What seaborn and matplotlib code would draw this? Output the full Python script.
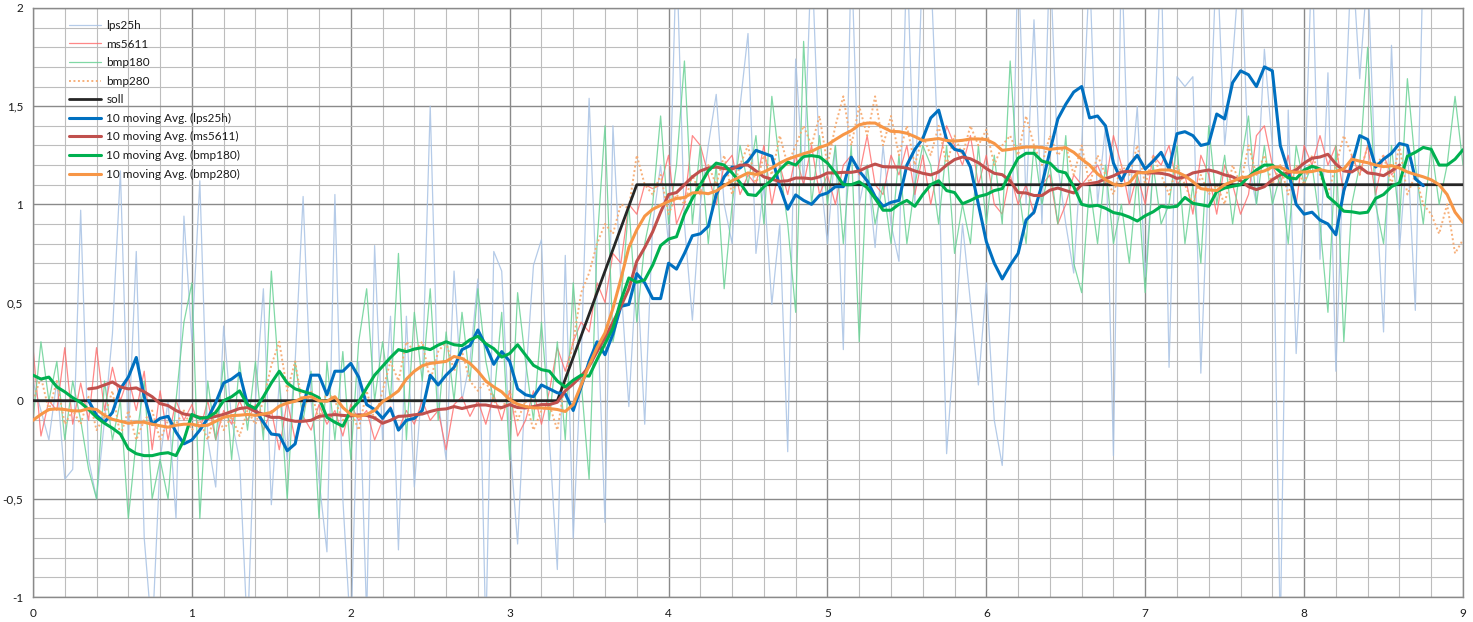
import numpy as np
import pandas as pd
import matplotlib
matplotlib.use("Agg")
import matplotlib.pyplot as plt
import seaborn as sns
from matplotlib.ticker import MultipleLocator, FuncFormatter

nan = np.nan

# sample times (0.05 s grid, 0 .. 9)
t = np.round(np.arange(181) * 0.05, 2)

# raw sensor series
lps25h = [
    0.1, -0.05, -0.2, 0.1, -0.4, -0.35, 0.97, -0.3, -0.5, -0.1,
    0.34, 1.17, -0.2, 0.76, -0.7, -1.2, -0.3, 0.0, -0.6, 0.94,
    0.3, 1.12, -0.2, -0.44, 0.38, -0.1, -0.3, -1.2, 0.0, 0.57,
    -0.53, 0.1, -0.3, 0.2, 1.04, 0.0, -0.4, -0.77, 1.05, -0.5,
    -1.2, 0.2, -1.1, 0.79, -0.2, 0.43, -0.76, 0.43, -0.44, 0.1,
    1.5, 0.0, -0.3, 0.66, 0.0, 0.2, 0.62, -1.2, 0.76, 0.66,
    -0.2, -0.73, 0.1, 0.69, 0.82, -0.2, -0.86, 0.74, -0.7, 0.2,
    1.54, 0.5, -0.62, 1.4, 0.6, -0.03, 0.7, -0.12, 0.9, 1.2,
    0.8, 2.3, 0.9, 0.41, 1.0, 1.3, 1.56, 1.0, 0.8, 1.5,
    1.87, 0.75, 1.1, 0.49, 0.9, -0.26, 1.74, 1.1, 2.3, 1.2,
    0.8, 1.3, 0.26, 2.3, 1.0, 1.2, 0.78, 1.3, 0.9, 0.71,
    2.3, 1.0, 2.3, 2.2, 1.2, -0.27, 0.3, 0.9, 0.5, 0.08,
    0.6, -0.1, -0.33, 0.5, 2.3, 1.0, 1.94, 0.9, 2.3, 1.2,
    0.9, 0.65, 1.3, 2.2, 1.0, 1.4, -0.28, 2.3, 1.0, 1.5,
    0.63, 1.2, 2.3, 0.17, 1.65, 1.6, 1.65, 0.14, 1.2, 2.3,
    1.3, 1.73, 2.3, 1.2, 1.0, 1.79, 1.3, -1.2, 1.48, 0.24,
    1.0, 2.3, 0.72, 1.67, 0.15, 1.3, 2.3, 1.64, 2.2, 1.1,
    0.35, 1.81, 0.77, 1.3, 0.46, 2.3, nan, nan, nan, nan,
    nan]

ms5611 = [
    0.27, -0.18, 0.0, -0.05, 0.27, -0.12, 0.09, -0.1, 0.27, -0.05,
    0.17, 0.0, 0.12, -0.05, 0.15, -0.25, 0.05, -0.2, 0.0, -0.1,
    -0.02, -0.15, 0.0, -0.2, -0.05, -0.12, 0.0, -0.1, -0.02, -0.15,
    -0.05, -0.25, 0.0, -0.2, -0.08, -0.15, -0.02, -0.12, -0.05, -0.18,
    -0.02, -0.1, -0.05, -0.2, -0.1, -0.03, -0.15, -0.05, -0.12, 0.0,
    -0.1, -0.05, -0.25, -0.02, 0.02, -0.08, 0.0, -0.12, 0.03, -0.1,
    0.05, -0.18, -0.1, 0.05, -0.12, 0.05, 0.27, 0.15, 0.3, 0.4,
    0.35, 0.6, 0.5, 0.75, 0.7, 1.0, 0.95, 1.1, 1.08, 1.1,
    1.25, 0.9, 1.0, 1.35, 1.3, 1.15, 1.0, 1.2, 1.25, 1.05,
    1.15, 1.1, 1.3, 1.0, 1.2, 1.05, 1.25, 1.1, 1.3, 1.05,
    1.15, 1.0, 1.2, 1.25, 1.15, 1.35, 1.1, 1.05, 1.25, 1.15,
    1.3, 1.05, 1.25, 1.0, 1.2, 1.4, 1.3, 1.2, 1.35, 1.1,
    1.25, 1.0, 0.95, 1.15, 1.0, 1.1, 0.95, 1.1, 1.15, 0.9,
    1.0, 1.15, 1.1, 1.15, 1.2, 1.1, 1.35, 1.2, 1.0, 1.15,
    1.0, 1.25, 1.2, 1.3, 1.1, 1.15, 0.95, 1.25, 1.15, 0.95,
    1.2, 1.1, 0.95, 1.05, 1.35, 1.4, 1.2, 1.1, 1.25, 1.0,
    1.3, 1.2, 1.35, 1.2, 1.3, 1.05, 1.25, 1.15, 1.3, 1.05,
    1.25, 1.15, 1.2, nan, nan, nan, nan, nan, nan, nan,
    nan]

bmp180 = [
    -0.1, 0.3, 0.0, 0.2, -0.2, 0.1, -0.1, -0.35, -0.5, 0.1,
    -0.2, 0.0, -0.6, -0.2, 0.1, -0.5, -0.3, -0.5, 0.0, 0.4,
    0.6, -0.6, 0.1, -0.2, 0.2, -0.3, 0.2, -0.15, 0.2, -0.2,
    0.66, 0.1, -0.5, 0.2, -0.1, 0.15, -0.6, 0.2, -0.2, 0.25,
    -0.3, 0.3, 0.57, 0.0, 0.3, 0.0, 0.75, -0.2, 0.45, 0.1,
    0.57, -0.1, 0.35, 0.0, 0.45, 0.1, 0.57, 0.2, 0.0, 0.45,
    -0.3, 0.55, 0.2, -0.1, 0.4, -0.1, 0.3, -0.2, 0.6, 0.1,
    -0.4, 0.8, 1.4, 0.3, 0.5, 1.0, 0.4, 0.8, 1.0, 1.45,
    0.9, 1.2, 1.73, 0.9, 1.3, 0.8, 1.2, 0.57, 1.0, 1.3,
    1.1, 1.35, 0.9, 1.55, 1.2, 0.9, 0.45, 1.83, 1.0, 1.35,
    1.0, 1.3, 0.8, 1.3, 0.3, 1.2, 0.9, 1.1, 0.8, 1.25,
    0.8, 1.1, 1.3, 1.2, 0.9, 1.3, 0.75, 1.0, 0.8, 1.3,
    0.9, 1.25, 0.9, 1.73, 1.1, 0.8, 1.3, 1.0, 1.2, 0.9,
    1.35, 0.7, 0.55, 1.1, 0.8, 1.2, 0.8, 1.0, 0.7, 1.15,
    0.55, 1.2, 0.9, 1.0, 1.3, 0.8, 1.1, 0.7, 1.4, 1.0,
    1.25, 0.9, 1.2, 1.45, 1.0, 1.3, 1.0, 1.15, 0.8, 1.3,
    1.1, 1.2, 0.9, 0.45, 1.3, 0.3, 1.0, 1.2, 1.8, 1.0,
    0.8, 1.3, 0.9, 1.64, 1.2, 0.9, 1.3, 1.0, 1.2, 1.55,
    1.2]

bmp280 = [
    0.0, 0.12, -0.05, 0.1, -0.12, -0.05, -0.12, 0.02, -0.15, -0.08,
    0.05, -0.18, -0.05, -0.2, -0.1, -0.05, -0.2, -0.1, -0.12, -0.05,
    -0.15, -0.1, -0.2, -0.05, -0.15, -0.08, -0.18, -0.05, -0.12, 0.0,
    0.18, 0.3, 0.05, 0.2, -0.05, 0.05, -0.1, 0.05, 0.0, -0.1,
    -0.05, -0.15, 0.05, -0.1, 0.05, 0.2, 0.1, 0.3, 0.25, 0.3,
    0.1, 0.25, 0.3, 0.15, 0.25, 0.1, 0.05, 0.1, 0.0, -0.05,
    0.05, -0.1, 0.0, -0.15, -0.05, -0.02, -0.15, 0.1, 0.3, 0.55,
    0.65, 0.8, 0.9, 0.85, 1.0, 0.98, 1.25, 1.1, 1.05, 1.15,
    0.95, 1.05, 1.0, 1.15, 1.05, 1.2, 1.1, 1.25, 1.05, 1.2,
    1.3, 1.1, 1.25, 1.15, 1.35, 1.2, 1.3, 1.4, 1.3, 1.45,
    1.2, 1.4, 1.55, 1.3, 1.5, 1.35, 1.55, 1.3, 1.45, 1.25,
    1.4, 1.2, 1.35, 1.25, 1.4, 1.2, 1.35, 1.25, 1.4, 1.3,
    1.38, 1.2, 1.3, 1.35, 1.25, 1.45, 1.3, 1.2, 1.35, 1.25,
    1.3, 1.15, 1.3, 1.1, 1.25, 1.15, 1.05, 1.2, 1.15, 1.3,
    1.1, 1.25, 1.15, 1.05, 1.2, 1.1, 1.0, 1.15, 1.05, 1.1,
    1.0, 1.2, 1.1, 1.3, 1.15, 1.25, 1.1, 1.2, 1.05, 1.2,
    1.1, 1.25, 1.15, 1.05, 1.2, 1.35, 1.25, 1.15, 1.3, 1.2,
    1.25, 1.1, 1.3, 1.05, 1.15, 1.0, 0.95, 0.85, 1.0, 0.75,
    0.82]

# set point
soll_t = [0.0, 3.3, 3.8, 9.0]
soll_v = [0.0, 0.0, 1.1, 1.1]

# 10 moving averages
ma_lps25h = [
    nan, nan, nan, nan, nan, nan, nan, 0.0, -0.075, -0.11,
    -0.06, 0.06, 0.12, 0.22, 0.02, -0.12, -0.09, -0.08, -0.16, -0.22,
    -0.2, -0.15, -0.09, -0.01, 0.09, 0.11, 0.14, -0.02, -0.05, -0.11,
    -0.17, -0.175, -0.255, -0.22, -0.03, 0.13, 0.13, 0.03, 0.15, 0.15,
    0.19, 0.12, -0.02, -0.045, -0.09, -0.04, -0.15, -0.1, -0.09, -0.05,
    0.13, 0.08, 0.13, 0.17, 0.26, 0.28, 0.36, 0.28, 0.185, 0.25,
    0.2, 0.06, 0.03, 0.02, 0.08, 0.06, 0.04, 0.035, -0.05, 0.07,
    0.2, 0.3, 0.234, 0.34, 0.48, 0.49, 0.647, 0.6, 0.52, 0.52,
    0.7, 0.67, 0.75, 0.84, 0.85, 0.888, 1.05, 1.14, 1.19, 1.185,
    1.22, 1.275, 1.26, 1.245, 1.09, 0.975, 1.048, 1.02, 1.0, 1.045,
    1.058, 1.09, 1.09, 1.24, 1.17, 1.12, 1.04, 0.99, 1.01, 1.02,
    1.2, 1.28, 1.335, 1.44, 1.48, 1.33, 1.28, 1.27, 1.19, 1.0,
    0.81, 0.7, 0.62, 0.69, 0.75, 0.92, 0.96, 1.1, 1.27, 1.435,
    1.51, 1.572, 1.6, 1.44, 1.45, 1.4, 1.21, 1.12, 1.2, 1.25,
    1.18, 1.22, 1.265, 1.18, 1.36, 1.37, 1.35, 1.3, 1.31, 1.46,
    1.435, 1.62, 1.68, 1.66, 1.6, 1.70, 1.68, 1.3, 1.17, 1.0,
    0.95, 0.96, 0.92, 0.9, 0.845, 1.07, 1.2, 1.35, 1.33, 1.19,
    1.23, 1.26, 1.31, 1.3, 1.13, 1.095, nan, nan, nan, nan,
    nan]

ma_ms5611 = [
    nan, nan, nan, nan, nan, nan, nan, 0.06, 0.065, 0.08,
    0.095, 0.07, 0.06, 0.065, 0.045, 0.02, -0.015, -0.025, -0.05, -0.068,
    -0.075, -0.085, -0.09, -0.08, -0.07, -0.055, -0.04, -0.035, -0.055, -0.07,
    -0.085, -0.085, -0.097, -0.105, -0.105, -0.1, -0.08, -0.075, -0.071, -0.075,
    -0.078, -0.072, -0.075, -0.088, -0.115, -0.1, -0.08, -0.078, -0.072, -0.068,
    -0.055, -0.045, -0.042, -0.03, -0.04, -0.03, -0.022, -0.022, -0.03, -0.035,
    -0.02, -0.035, -0.037, -0.03, -0.02, -0.02, -0.008, 0.05, 0.085, 0.125,
    0.175, 0.25, 0.32, 0.4, 0.48, 0.57, 0.71, 0.78, 0.86, 0.96,
    1.05, 1.06, 1.1, 1.14, 1.17, 1.185, 1.19, 1.182, 1.18, 1.2,
    1.2, 1.17, 1.14, 1.128, 1.117, 1.12, 1.134, 1.134, 1.13, 1.14,
    1.16, 1.16, 1.163, 1.163, 1.17, 1.19, 1.205, 1.192, 1.19, 1.19,
    1.185, 1.17, 1.158, 1.15, 1.165, 1.2, 1.228, 1.241, 1.232, 1.212,
    1.182, 1.158, 1.151, 1.12, 1.06, 1.058, 1.045, 1.045, 1.072, 1.083,
    1.07, 1.058, 1.1, 1.106, 1.112, 1.13, 1.145, 1.165, 1.168, 1.165,
    1.16, 1.16, 1.158, 1.15, 1.132, 1.14, 1.16, 1.168, 1.175, 1.165,
    1.15, 1.14, 1.12, 1.09, 1.075, 1.09, 1.125, 1.15, 1.16, 1.175,
    1.21, 1.235, 1.241, 1.255, 1.205, 1.17, 1.165, 1.19, 1.16, 1.155,
    1.146, 1.17, 1.2, nan, nan, nan, nan, nan, nan, nan,
    nan]

ma_bmp180 = [
    0.13, 0.11, 0.12, 0.07, 0.045, 0.015, -0.01, -0.045, -0.085, -0.115,
    -0.14, -0.17, -0.245, -0.27, -0.28, -0.28, -0.27, -0.265, -0.28, -0.2,
    -0.07, -0.09, -0.085, -0.06, 0.0, 0.02, 0.05, -0.02, -0.04, 0.02,
    0.09, 0.15, 0.09, 0.06, 0.047, 0.035, 0.015, -0.085, -0.11, -0.13,
    -0.05, -0.005, 0.065, 0.13, 0.175, 0.22, 0.26, 0.25, 0.263, 0.27,
    0.26, 0.283, 0.3, 0.285, 0.28, 0.31, 0.328, 0.29, 0.265, 0.222,
    0.24, 0.285, 0.232, 0.18, 0.158, 0.15, 0.1, 0.07, 0.104, 0.13,
    0.125, 0.21, 0.29, 0.37, 0.51, 0.625, 0.603, 0.615, 0.69, 0.79,
    0.823, 0.835, 0.95, 1.03, 1.1, 1.17, 1.21, 1.2, 1.16, 1.11,
    1.05, 1.045, 1.09, 1.125, 1.175, 1.215, 1.2, 1.244, 1.248, 1.242,
    1.21, 1.16, 1.1, 1.1, 1.115, 1.085, 1.03, 0.97, 0.97, 1.0,
    1.02, 0.99, 1.05, 1.1, 1.12, 1.07, 1.06, 1.003, 1.02, 1.04,
    1.05, 1.07, 1.08, 1.16, 1.235, 1.26, 1.26, 1.22, 1.21, 1.17,
    1.16, 1.09, 1.0, 0.99, 0.995, 0.98, 0.958, 0.95, 0.935, 0.915,
    0.942, 0.962, 0.99, 0.985, 0.99, 1.035, 1.005, 0.998, 0.99, 1.065,
    1.083, 1.092, 1.1, 1.14, 1.175, 1.2, 1.2, 1.165, 1.135, 1.13,
    1.175, 1.194, 1.18, 1.04, 1.005, 0.965, 0.962, 0.955, 0.96, 1.03,
    1.05, 1.09, 1.11, 1.245, 1.265, 1.29, 1.28, 1.2, 1.2, 1.23,
    1.278]

ma_bmp280 = [
    -0.1, -0.07, -0.045, -0.042, -0.045, -0.052, -0.052, -0.04, -0.045, -0.075,
    -0.095, -0.105, -0.115, -0.11, -0.11, -0.12, -0.128, -0.135, -0.125, -0.12,
    -0.12, -0.128, -0.125, -0.105, -0.085, -0.076, -0.074, -0.07, -0.075, -0.068,
    -0.06, -0.028, -0.012, -0.003, 0.015, 0.02, -0.001, -0.003, 0.02, -0.035,
    -0.07, -0.08, -0.07, -0.05, -0.005, 0.02, 0.05, 0.11, 0.15, 0.178,
    0.19, 0.195, 0.2, 0.225, 0.215, 0.19, 0.15, 0.1, 0.07, 0.045,
    0.005, -0.018, -0.03, -0.037, -0.037, -0.04, -0.045, -0.055, -0.02, 0.08,
    0.18, 0.27, 0.345, 0.47, 0.62, 0.78, 0.87, 0.94, 0.975, 0.995,
    1.015, 1.03, 1.035, 1.058, 1.06, 1.054, 1.068, 1.095, 1.12, 1.14,
    1.16, 1.152, 1.165, 1.185, 1.21, 1.23, 1.244, 1.258, 1.27, 1.29,
    1.303, 1.33, 1.355, 1.375, 1.405, 1.414, 1.414, 1.392, 1.372, 1.37,
    1.362, 1.345, 1.325, 1.33, 1.335, 1.325, 1.322, 1.326, 1.333, 1.333,
    1.33, 1.31, 1.275, 1.28, 1.287, 1.292, 1.292, 1.29, 1.28, 1.285,
    1.288, 1.265, 1.23, 1.2, 1.155, 1.125, 1.103, 1.095, 1.11, 1.16,
    1.162, 1.168, 1.175, 1.175, 1.165, 1.145, 1.115, 1.08, 1.074, 1.07,
    1.1, 1.117, 1.135, 1.14, 1.16, 1.17, 1.19, 1.19, 1.168, 1.163,
    1.165, 1.167, 1.177, 1.168, 1.168, 1.18, 1.23, 1.22, 1.212, 1.2,
    1.192, 1.197, 1.185, 1.165, 1.152, 1.14, 1.125, 1.1, 1.05, 0.96,
    0.908]

x_ticks = [0, 1, 2, 3, 4, 5, 6, 7, 8, 9]
y_ticks = [-1, -0.5, 0, 0.5, 1, 1.5, 2]

sns.set_style("white")
plt.rcParams['font.family'] = ['Lato', 'DejaVu Sans']

fig = plt.figure(figsize=(14.73, 6.22), dpi=100)
ax = fig.add_axes([33 / 1473, 25 / 622, 1430 / 1473, 589 / 622])

def draw(vals, label, color, lw, ls='-', alpha=1.0, z=2):
    df = pd.DataFrame({'t': t, 'v': vals}).dropna()
    sns.lineplot(data=df, x='t', y='v', ax=ax, color=color, lw=lw, ls=ls,
                 alpha=alpha, estimator=None, errorbar=None, sort=False,
                 label=label, zorder=z)

draw(lps25h, 'lps25h', '#a8c2e4', 0.9, alpha=0.85)
draw(ms5611, 'ms5611', '#ff6a6a', 0.9, alpha=0.8)
draw(bmp180, 'bmp180', '#6ad296', 0.9, alpha=0.85)
draw(bmp280, 'bmp280', '#f7a86c', 1.4, ls=(0, (1, 1.3)), alpha=0.9)

sdf = pd.DataFrame({'t': soll_t, 'v': soll_v})
sns.lineplot(data=sdf, x='t', y='v', ax=ax, color='#262626', lw=2.0,
             estimator=None, errorbar=None, sort=False, label='soll', zorder=3)

draw(ma_lps25h, '10 moving Avg. (lps25h)', '#0070c0', 2.2, z=4)
draw(ma_ms5611, '10 moving Avg. (ms5611)', '#c0504d', 2.2, z=4)
draw(ma_bmp180, '10 moving Avg. (bmp180)', '#00b050', 2.2, z=4)
draw(ma_bmp280, '10 moving Avg. (bmp280)', '#f79646', 2.2, z=4)

ax.set_xlim(0, 9)
ax.set_ylim(-1, 2)
ax.set_xlabel('')
ax.set_ylabel('')
ax.set_xticks(x_ticks)
ax.set_yticks(y_ticks)
ax.xaxis.set_minor_locator(MultipleLocator(0.2))
ax.yaxis.set_minor_locator(MultipleLocator(0.1))
fmt = FuncFormatter(lambda v, p: ('%g' % v).replace('.', ','))
ax.xaxis.set_major_formatter(fmt)
ax.yaxis.set_major_formatter(fmt)
ax.tick_params(which='both', length=0, labelsize=8.5, colors='#1a1a1a')
ax.tick_params(axis='x', pad=8)
ax.tick_params(axis='y', pad=7)
ax.grid(which='major', color='#8a8a8a', lw=1.0)
ax.grid(which='minor', color='#bdbdbd', lw=0.8)
ax.set_axisbelow(True)
for s in ax.spines.values():
    s.set_color('#8a8a8a')
    s.set_linewidth(1.0)

leg = ax.legend(loc='upper left', bbox_to_anchor=(69 / 1473, (622 - 20) / 622),
                bbox_transform=fig.transFigure, frameon=False, fontsize=8.5,
                handlelength=2.75, handletextpad=0.4, labelspacing=0.64,
                borderpad=0, borderaxespad=0)
for txt in leg.get_texts():
    txt.set_color('#1a1a1a')

fig.savefig('out.png', dpi=100)
